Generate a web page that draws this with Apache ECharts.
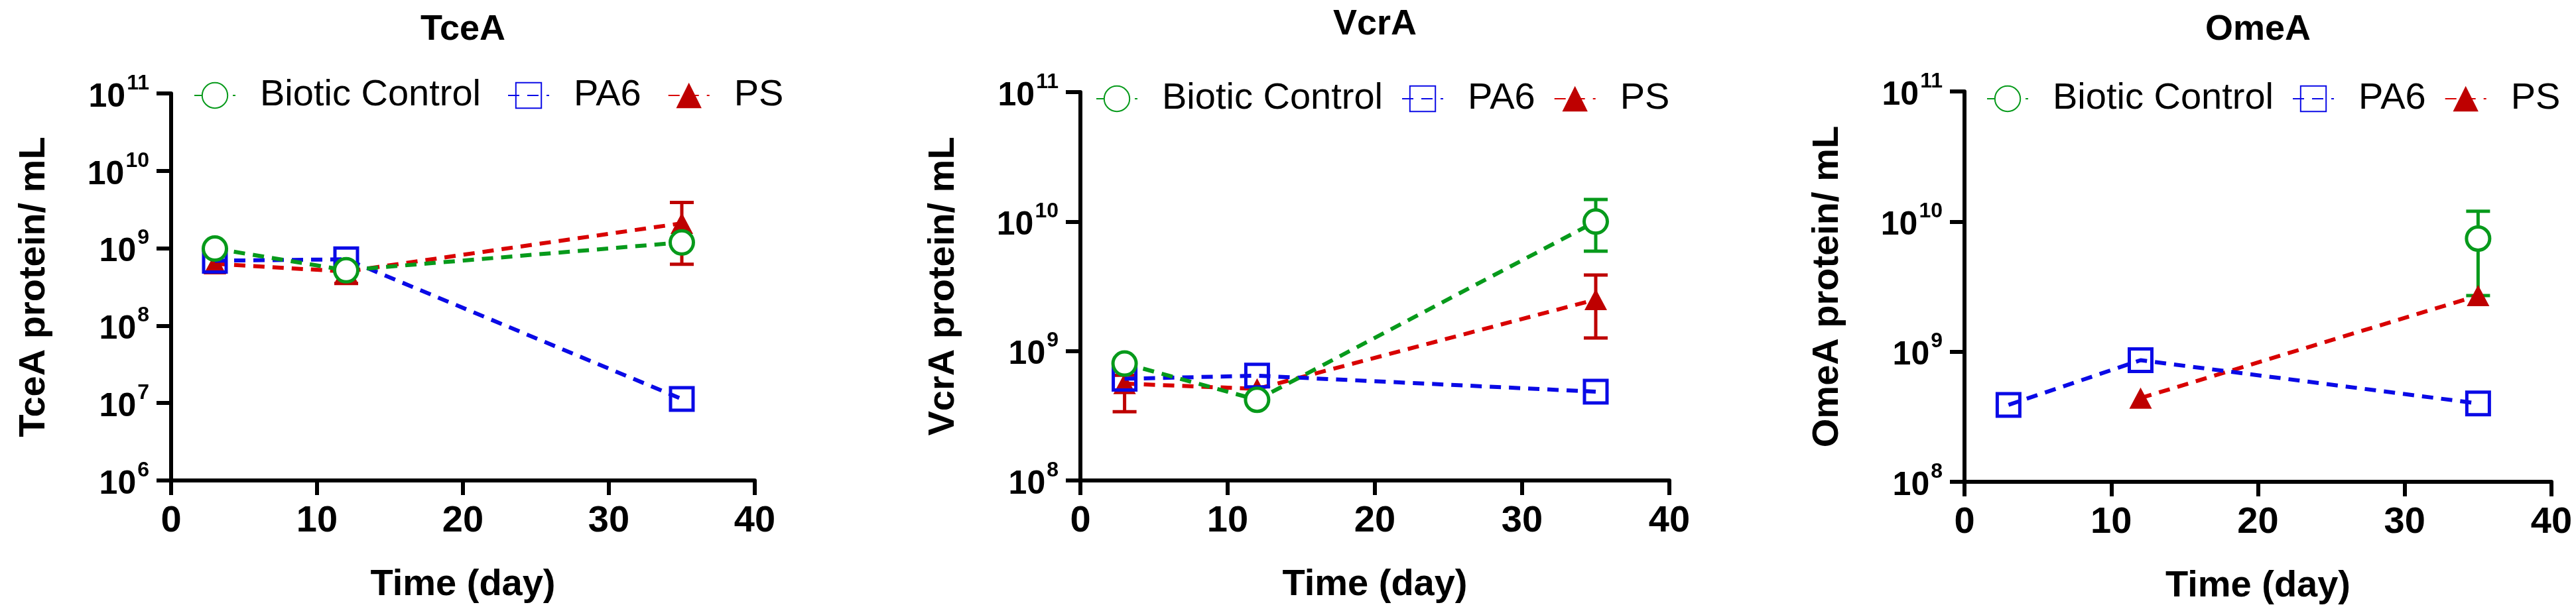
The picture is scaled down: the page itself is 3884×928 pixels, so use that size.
<!DOCTYPE html>
<html><head><meta charset="utf-8">
<script src="https://cdn.jsdelivr.net/npm/echarts@6/dist/echarts.min.js"></script>
<style>html,body{margin:0;padding:0;background:#fff}#c{width:3884px;height:928px}</style>
</head><body><div id="c"></div>
<script>
// ---- data ----
const days = [3, 12, 35];
const panelTitles = ['TceA', 'VcrA', 'OmeA'];
const yAxisNames = ['TceA protein/ mL', 'VcrA protein/ mL', 'OmeA protein/ mL'];
const seriesNames = ['Biotic Control', 'PA6', 'PS'];
const xTickValues = [0, 10, 20, 30, 40];
const yMinValues = [1e6, 1e8, 1e8];
const yMaxValue = 1e11;

const tceaBiotic = [9.9e8, 5.2e8, 1.19e9];
const tceaPA6 = [6.9e8, 7.2e8, 1.13e7];
const tceaPS = [6.3e8, 5.0e8, 2.1e9];
const tceaBioticErr = [];
const tceaPSErr = [[12, 3.5e8, 6.5e8], [35, 6.2e8, 3.9e9]];

const vcraBiotic = [8.0e8, 4.2e8, 1.0e10];
const vcraPA6 = [6.1e8, 6.45e8, 4.85e8];
const vcraPS = [5.6e8, 5.1e8, 2.5e9];
const vcraBioticErr = [[35, 5.9e9, 1.48e10]];
const vcraPSErr = [[3, 3.4e8, 6.5e8], [35, 1.26e9, 3.86e9]];

const omeaBiotic = [null, null, 7.4e9];
const omeaPA6 = [3.9e8, 8.6e8, 4.0e8];
const omeaPS = [null, 4.4e8, 2.7e9];
const omeaBioticErr = [[35, 2.7e9, 1.2e10]];
const omeaPSErr = [];

// ---- styling / layout ----
const FONT = 'Arial, "Liberation Sans", sans-serif';
const GREEN = '#079A1B', BLUE = '#0A0AE6', RED = '#D80000', RED_M = '#BE0000';
const grids = [
  {left: 258, top: 141, width: 880, height: 584},
  {left: 1629, top: 139, width: 888, height: 586},
  {left: 2962, top: 138, width: 885, height: 589}
];
const legendPos = [{left: 292, top: 116}, {left: 1652, top: 121}, {left: 2995, top: 121}];
const titleY = [45, 37, 45];

const panelData = [
  {b: tceaBiotic, p: tceaPA6, s: tceaPS, be: tceaBioticErr, se: tceaPSErr},
  {b: vcraBiotic, p: vcraPA6, s: vcraPS, be: vcraBioticErr, se: vcraPSErr},
  {b: omeaBiotic, p: omeaPA6, s: omeaPS, be: omeaBioticErr, se: omeaPSErr}
];

function pairs(vals) {
  const out = [];
  days.forEach((d, i) => { if (vals[i] != null) out.push([d, vals[i]]); });
  return out;
}

function errSeries(data, color, idx) {
  return {
    type: 'custom', name: 'err' + idx + color, xAxisIndex: idx, yAxisIndex: idx, z: 2,
    encode: {x: 0, y: [1, 2]},
    data: data,
    renderItem: function (params, api) {
      const x = api.value(0), lo = api.value(1), hi = api.value(2);
      const a = api.coord([x, lo]), b = api.coord([x, hi]);
      const w = 18;
      const st = {stroke: color, lineWidth: 5, fill: null};
      return {type: 'group', children: [
        {type: 'line', shape: {x1: a[0], y1: a[1], x2: b[0], y2: b[1]}, style: st},
        {type: 'line', shape: {x1: a[0] - w, y1: a[1], x2: a[0] + w, y2: a[1]}, style: st},
        {type: 'line', shape: {x1: b[0] - w, y1: b[1], x2: b[0] + w, y2: b[1]}, style: st}
      ]};
    }
  };
}

const series = [];
const xAxes = [], yAxes = [], legends = [], graphics = [];
const dash = [17, 12];

panelData.forEach((pd, i) => {
  series.push(errSeries(pd.se, RED_M, i));
  series.push(errSeries(pd.be, GREEN, i));
  series.push({
    type: 'line', name: 'PS', xAxisIndex: i, yAxisIndex: i, z: 3,
    data: pairs(pd.s), symbol: 'triangle', symbolSize: [34, 32],
    lineStyle: {color: RED, width: 6, type: dash},
    itemStyle: {color: RED_M}
  });
  series.push({
    type: 'line', name: 'PA6', xAxisIndex: i, yAxisIndex: i, z: 4,
    data: pairs(pd.p), symbol: 'rect', symbolSize: 34,
    lineStyle: {color: BLUE, width: 6, type: dash},
    itemStyle: {color: 'rgba(255,255,255,0)', borderColor: BLUE, borderWidth: 5}
  });
  series.push({
    type: 'line', name: 'Biotic Control', xAxisIndex: i, yAxisIndex: i, z: 5,
    data: pairs(pd.b), symbol: 'circle', symbolSize: 35,
    lineStyle: {color: GREEN, width: 6, type: dash},
    itemStyle: {color: '#fff', borderColor: GREEN, borderWidth: 5}
  });

  xAxes.push({
    type: 'value', gridIndex: i, min: 0, max: 40, interval: 10,
    name: 'Time (day)', nameLocation: 'middle', nameGap: 130,
    nameTextStyle: {fontFamily: FONT, fontWeight: 'bold', fontSize: 56, color: '#000'},
    axisLine: {lineStyle: {color: '#000', width: 6}},
    axisTick: {length: 22, lineStyle: {color: '#000', width: 6}},
    axisLabel: {fontFamily: FONT, fontWeight: 'bold', fontSize: 56, color: '#000', margin: 34,
      formatter: v => xTickValues.indexOf(v) >= 0 ? String(v) : ''},
    splitLine: {show: false}
  });
  yAxes.push({
    type: 'log', logBase: 10, gridIndex: i, min: yMinValues[i], max: yMaxValue,
    name: yAxisNames[i], nameLocation: 'middle', nameGap: 178, nameRotate: 90,
    nameTextStyle: {fontFamily: FONT, fontWeight: 'bold', fontSize: 56, color: '#000'},
    axisLine: {show: true, lineStyle: {color: '#000', width: 6}},
    axisTick: {show: true, length: 22, lineStyle: {color: '#000', width: 6}},
    minorTick: {show: false},
    axisLabel: {
      margin: 33, color: '#000',
      formatter: v => '{b|10}{s|' + Math.round(Math.log10(v)) + '}',
      rich: {
        b: {fontFamily: FONT, fontWeight: 'bold', fontSize: 50, lineHeight: 62, verticalAlign: 'bottom', padding: [8, 0, 0, 0]},
        s: {fontFamily: FONT, fontWeight: 'bold', fontSize: 32, lineHeight: 36, verticalAlign: 'top', padding: [0, 0, 0, 2]}
      }
    },
    splitLine: {show: false}
  });
  legends.push({
    left: legendPos[i].left, top: legendPos[i].top, orient: 'horizontal', padding: 0,
    itemWidth: 62, itemHeight: 48, itemGap: i === 0 ? 40 : 28,
    data: seriesNames,
    textStyle: {fontFamily: FONT, fontSize: 56, color: '#000', padding: [0, 0, 0, 32]}
  });
  graphics.push({
    type: 'text', x: grids[i].left + grids[i].width / 2, y: titleY[i],
    style: {text: panelTitles[i], font: 'bold 54px ' + FONT, fill: '#000',
      align: 'center', verticalAlign: 'middle', textAlign: 'center', textVerticalAlign: 'middle'}
  });
});

const chart = echarts.init(document.getElementById('c'), null, {renderer: 'canvas'});
chart.setOption({
  backgroundColor: '#fff',
  animation: false,
  grid: grids.map(g => Object.assign({outerBoundsMode: 'none', containLabel: false}, g)),
  xAxis: xAxes,
  yAxis: yAxes,
  legend: legends,
  graphic: graphics,
  series: series
});
</script>
</body></html>
